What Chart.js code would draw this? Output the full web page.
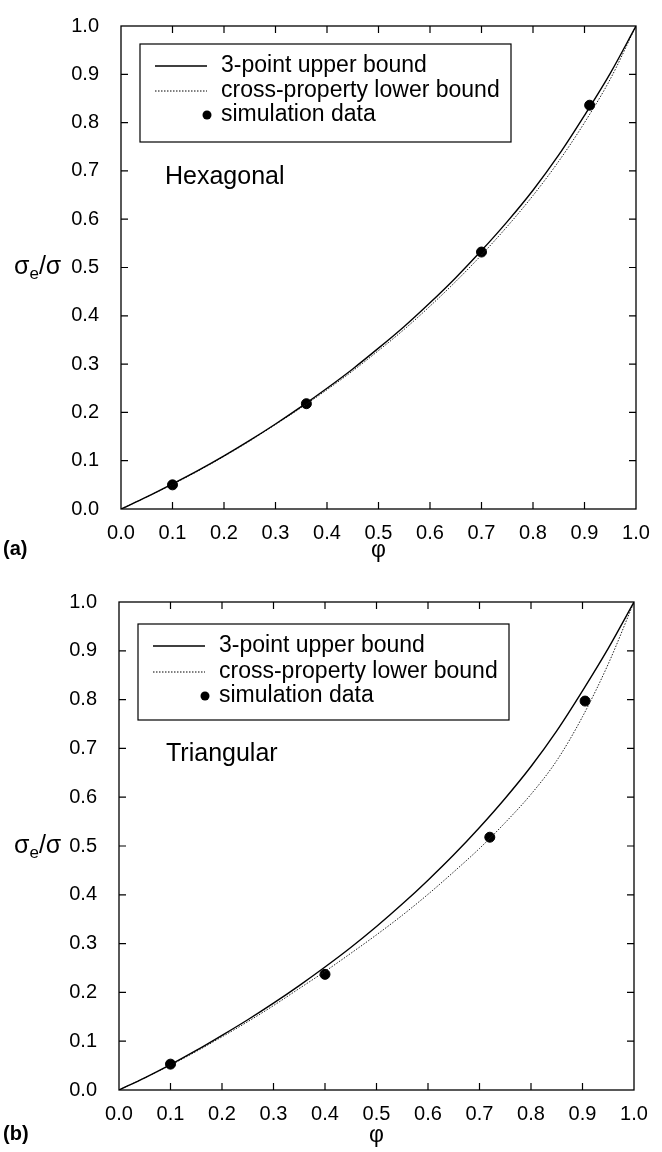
<!DOCTYPE html>
<html lang="en">

<head>
    <meta charset="UTF-8">
    <title>Hexagonal / Triangular bounds</title>
    <style>
        body { margin: 0; background: #fff; }
        .box { position: absolute; left: 0; width: 662px; height: 576px; }
    </style>
</head>

<body>

    <div class="box" style="top: 0px;"><canvas id="chartA" width="662" height="576"></canvas></div>
    <div class="box" style="top: 576px;"><canvas id="chartB" width="662" height="576"></canvas></div>

    <script src="https://cdn.jsdelivr.net/npm/chart.js"></script>
    <script>
        // volume fraction grid used for the bound curves
        const phiGrid = [0, 0.05, 0.1, 0.15, 0.2, 0.25, 0.3, 0.35, 0.4, 0.45, 0.5, 0.55, 0.6, 0.65, 0.7, 0.75, 0.8, 0.85, 0.9, 0.95, 1.0];

        // (a) hexagonal
        const hexUpper = [0, 0.025, 0.052, 0.08, 0.11, 0.142, 0.176, 0.212, 0.25, 0.29, 0.333, 0.378, 0.427, 0.479, 0.535, 0.595, 0.66, 0.733, 0.815, 0.902, 1.0];
        const hexLower = [0, 0.025, 0.051, 0.079, 0.109, 0.141, 0.175, 0.21, 0.247, 0.286, 0.328, 0.372, 0.42, 0.471, 0.526, 0.585, 0.649, 0.72, 0.8, 0.89, 1.0];
        const hexSimPhi = [0.1, 0.36, 0.7, 0.91];
        const hexSimVal = [0.05, 0.218, 0.532, 0.836];

        // (b) triangular
        const triUpper = [0, 0.025, 0.052, 0.081, 0.112, 0.144, 0.178, 0.214, 0.252, 0.292, 0.335, 0.381, 0.43, 0.482, 0.538, 0.598, 0.663, 0.736, 0.818, 0.905, 1.0];
        const triLower = [0, 0.025, 0.051, 0.079, 0.109, 0.14, 0.173, 0.208, 0.243, 0.28, 0.318, 0.358, 0.401, 0.447, 0.495, 0.548, 0.606, 0.675, 0.765, 0.873, 1.0];
        const triSimPhi = [0.1, 0.4, 0.72, 0.905];
        const triSimVal = [0.053, 0.237, 0.518, 0.797];

        const tickValues = [0, 0.1, 0.2, 0.3, 0.4, 0.5, 0.6, 0.7, 0.8, 0.9, 1.0];
        const seriesNames = ["3-point upper bound", "cross-property lower bound", "simulation data"];

        const FONT = "'Liberation Sans', Arial, Helvetica, sans-serif";

        function f_points(xs, ys) {
            let v_out = [];
            for (let i = 0; i < xs.length; i++) {
                v_out.push({ x: xs[i], y: ys[i] });
            }
            return v_out;
        }

        // box, inward ticks, legend and labels
        const v_decor = {
            id: 'decor',
            afterDatasetsDraw(chart, args, o) {
                const ctx = chart.ctx;
                const a = chart.chartArea;
                const xs = chart.scales.x;
                const ys = chart.scales.y;
                ctx.save();
                ctx.strokeStyle = '#000';
                ctx.lineWidth = 1.3;
                ctx.strokeRect(a.left, a.top, a.right - a.left, a.bottom - a.top);
                ctx.lineWidth = 1.2;
                ctx.beginPath();
                for (let i = 1; i < tickValues.length - 1; i++) {
                    let px = xs.getPixelForValue(tickValues[i]);
                    ctx.moveTo(px, a.bottom); ctx.lineTo(px, a.bottom - 7);
                    ctx.moveTo(px, a.top); ctx.lineTo(px, a.top + 7);
                    let py = ys.getPixelForValue(tickValues[i]);
                    ctx.moveTo(a.left, py); ctx.lineTo(a.left + 7, py);
                    ctx.moveTo(a.right, py); ctx.lineTo(a.right - 7, py);
                }
                ctx.stroke();

                // legend
                const L = o.legend;
                ctx.fillStyle = '#fff';
                ctx.fillRect(L.x, L.y, L.w, L.h);
                ctx.lineWidth = 1.2;
                ctx.strokeRect(L.x, L.y, L.w, L.h);
                ctx.font = '23px ' + FONT;
                ctx.textBaseline = 'middle';
                ctx.textAlign = 'left';
                ctx.fillStyle = '#000';
                for (let i = 0; i < 3; i++) {
                    let ry = L.y + L.rows[i];
                    ctx.beginPath();
                    if (i == 0) {
                        ctx.setLineDash([]);
                        ctx.lineWidth = 1.3;
                        ctx.moveTo(L.x + 15, ry); ctx.lineTo(L.x + 67, ry);
                        ctx.stroke();
                    } else if (i == 1) {
                        ctx.setLineDash([1.5, 1.5]);
                        ctx.lineWidth = 1;
                        ctx.moveTo(L.x + 15, ry); ctx.lineTo(L.x + 67, ry);
                        ctx.stroke();
                        ctx.setLineDash([]);
                    } else {
                        ctx.arc(L.x + 67, ry, 4.5, 0, Math.PI * 2);
                        ctx.fill();
                    }
                    ctx.fillText(seriesNames[i], L.x + 81, ry);
                }

                // lattice name
                ctx.font = '25px ' + FONT;
                ctx.fillText(o.name, o.nameX, o.nameY);

                // y title  sigma_e / sigma
                ctx.font = '25px ' + FONT;
                let tx = 14, ty = (a.top + a.bottom) / 2;
                ctx.fillText('σ', tx, ty);
                tx += ctx.measureText('σ').width;
                ctx.font = '17px ' + FONT;
                ctx.fillText('e', tx, ty + 7);
                tx += ctx.measureText('e').width;
                ctx.font = '25px ' + FONT;
                ctx.fillText('/σ', tx, ty);

                // x title and panel letter
                ctx.font = '23px ' + FONT;
                ctx.textAlign = 'center';
                ctx.fillText('φ', (a.left + a.right) / 2, a.bottom + o.titleGap);
                ctx.font = 'bold 20px ' + FONT;
                ctx.textAlign = 'left';
                ctx.fillText(o.panel, 3, a.bottom + o.titleGap - 2);
                ctx.restore();
            }
        };

        function f_makeChart(id, upper, lower, simPhi, simVal, decor, pad) {
            const ctx = document.querySelector(id);
            return new Chart(ctx, {
                type: 'scatter',
                data: {
                    datasets: [
                        {
                            label: seriesNames[0],
                            data: f_points(phiGrid, upper),
                            showLine: true,
                            borderColor: '#000',
                            borderWidth: 1.4,
                            pointRadius: 0,
                            cubicInterpolationMode: 'monotone'
                        },
                        {
                            label: seriesNames[1],
                            data: f_points(phiGrid, lower),
                            showLine: true,
                            borderColor: '#222',
                            borderWidth: 1,
                            borderDash: [1.5, 1.5],
                            pointRadius: 0,
                            cubicInterpolationMode: 'monotone'
                        },
                        {
                            label: seriesNames[2],
                            data: f_points(simPhi, simVal),
                            backgroundColor: '#000',
                            borderColor: '#000',
                            pointRadius: 5,
                            pointHoverRadius: 5
                        }
                    ]
                },
                options: {
                    responsive: false,
                    animation: false,
                    events: [],
                    layout: { padding: pad },
                    plugins: {
                        legend: { display: false },
                        tooltip: { enabled: false },
                        decor: decor
                    },
                    scales: {
                        x: {
                            type: 'linear', min: 0, max: 1,
                            grid: { display: false },
                            border: { display: false },
                            afterBuildTicks: s => { s.ticks = tickValues.map(v => ({ value: v })); },
                            afterFit: s => { s.height = pad.xh; },
                            ticks: {
                                autoSkip: false, maxRotation: 0, padding: 4, color: '#000',
                                font: { family: FONT, size: 20 },
                                callback: v => v.toFixed(1)
                            }
                        },
                        y: {
                            type: 'linear', min: 0, max: 1,
                            grid: { display: false },
                            border: { display: false },
                            afterBuildTicks: s => { s.ticks = tickValues.map(v => ({ value: v })); },
                            afterFit: s => { s.width = pad.yw; },
                            ticks: {
                                autoSkip: false, padding: 14, color: '#000',
                                font: { family: FONT, size: 20 },
                                callback: v => v.toFixed(1)
                            }
                        }
                    }
                },
                plugins: [v_decor]
            });
        }

        f_makeChart('#chartA', hexUpper, hexLower, hexSimPhi, hexSimVal,
            { legend: { x: 140, y: 44, w: 371, h: 98, rows: [22, 47, 71] }, name: 'Hexagonal', nameX: 165, nameY: 177, panel: '(a)', titleGap: 42 },
            { left: 0, top: 17, right: 26, bottom: 0, yw: 121, xh: 67 });

        f_makeChart('#chartB', triUpper, triLower, triSimPhi, triSimVal,
            { legend: { x: 138, y: 48, w: 371, h: 96, rows: [22, 48, 72] }, name: 'Triangular', nameX: 166, nameY: 178, panel: '(b)', titleGap: 46 },
            { left: 0, top: 21, right: 28, bottom: 0, yw: 119, xh: 62 });
    </script>

</body>

</html>
